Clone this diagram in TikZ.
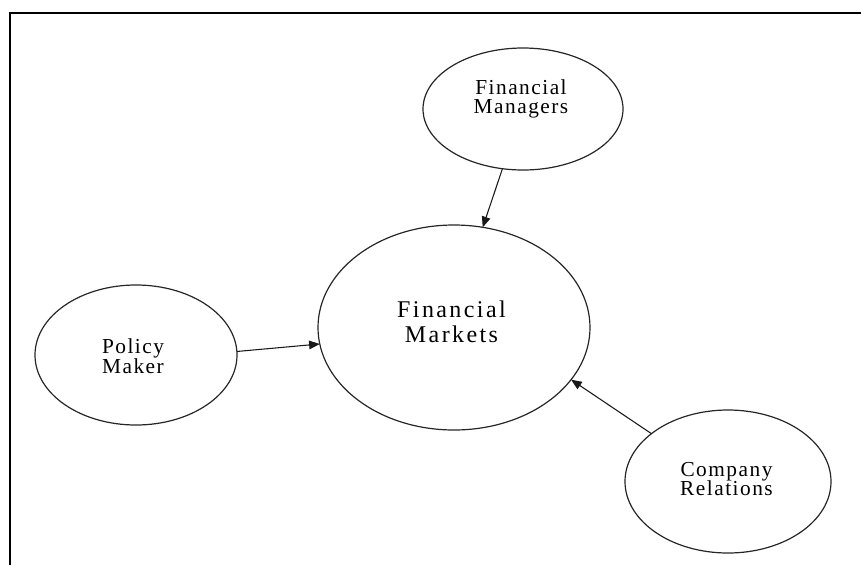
\documentclass[tikz,border=0pt]{standalone}
\usepackage{fontspec}
\setmainfont{Liberation Serif}
\newfontfamily\smallfam[LetterSpace=7]{Liberation Serif}
\newfontfamily\bigfam[LetterSpace=10]{Liberation Serif}
\usetikzlibrary{shapes.geometric,arrows.meta}
\begin{document}
\begin{tikzpicture}[x=0.75pt,y=-0.75pt,
  bubble/.style={ellipse,draw=black!85,line width=0.9pt,inner sep=0pt,outer sep=0pt},
  lbl/.style={align=center,inner sep=0pt,font=\smallfam\fontsize{16}{14.6}\selectfont},
  biglbl/.style={align=center,inner sep=0pt,font=\bigfam\fontsize{18}{18.75}\selectfont},
  link/.style={draw=black!90,line width=0.8pt,-{Triangle[length=8pt,width=6.5pt]}}]
  \useasboundingbox (0,0) rectangle (861,565);
  % page frame
  \draw[line width=1.5pt] (10,565) -- (10,13) -- (861,13);
  % ellipses (sizes in pt)
  \node[bubble,minimum width=204pt,minimum height=153.75pt] (mk) at (454,327.5) {};
  \node[bubble,minimum width=150pt,minimum height=91.5pt] (fm) at (523,109) {};
  \node[bubble,minimum width=151.5pt,minimum height=105pt] (pm) at (136,355) {};
  \node[bubble,minimum width=154.5pt,minimum height=107.25pt] (cr) at (728,481.5) {};
  % labels
  \node[biglbl] (mkt) at (451.5,322) {Financial\\Markets};
  \node[lbl] (fmt) at (521,99) {Financial\\Managers};
  \node[lbl] (pmt) at (133,356) {Policy\\Maker};
  \node[lbl] (crt) at (726.5,479) {Company\\Relations};
  % connectors
  \draw[link] (fm.-109) -- (mk.74);
  \draw[link] (pm.2) -- (mk.187);
  \draw[link] (cr.148) -- (mk.-24);
\end{tikzpicture}
\end{document}
